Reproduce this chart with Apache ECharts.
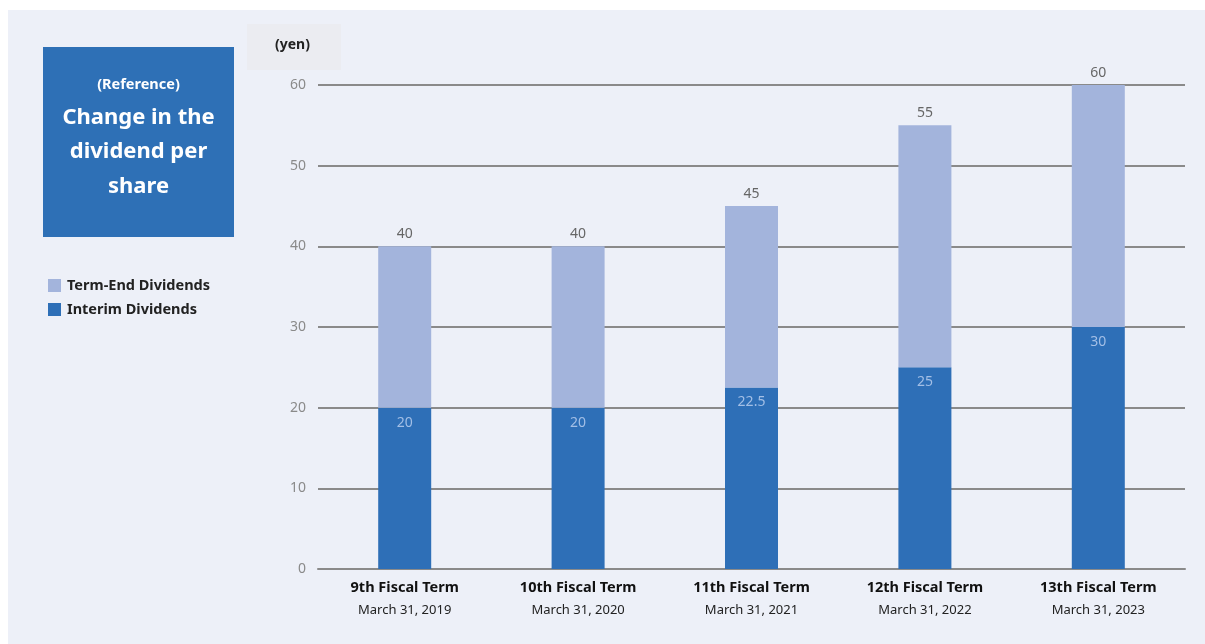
<!DOCTYPE html>
<html>
<head>
<meta charset="utf-8">
<script src="https://cdn.jsdelivr.net/npm/echarts@6/dist/echarts.min.js"></script>
<style>
  html, body { margin: 0; padding: 0; background: #ffffff; }
  #chart { width: 1205px; height: 644px; }
</style>
</head>
<body>
<div id="chart"></div>
<script>
var terms = ['9th Fiscal Term', '10th Fiscal Term', '11th Fiscal Term', '12th Fiscal Term', '13th Fiscal Term'];
var dates = ['March 31, 2019', 'March 31, 2020', 'March 31, 2021', 'March 31, 2022', 'March 31, 2023'];
var interim = [20, 20, 22.5, 25, 30];
var termEnd = [20, 20, 22.5, 30, 30];
var totals = [40, 40, 45, 55, 60];

var FONT = '"Noto Sans", "Open Sans", sans-serif';

var chart = echarts.init(document.getElementById('chart'));

var categories = terms.map(function (t, i) { return t + '\n' + dates[i]; });

chart.setOption({
    backgroundColor: '#ffffff',
    textStyle: { fontFamily: FONT },
    graphic: [
        // light panel
        { type: 'rect', left: 8, top: 10, z: -10,
          shape: { width: 1197, height: 634 }, style: { fill: '#edf0f8' } },
        // grey box behind unit
        { type: 'rect', left: 247, top: 24, z: -5,
          shape: { width: 94, height: 46 }, style: { fill: '#ebecf1' } },
        { type: 'text', left: 275, top: 38,
          style: { text: '(yen)', fill: '#222', font: 'bold 14px ' + FONT } },
        // title box
        { type: 'rect', left: 43, top: 47,
          shape: { width: 191, height: 190 }, style: { fill: '#2e70b6' } },
        { type: 'text', x: 138.5, y: 85,
          style: { text: '(Reference)', fill: '#fff', font: 'bold 14.5px ' + FONT,
                   align: 'center', verticalAlign: 'middle' } },
        { type: 'text', x: 138.5, y: 100,
          style: { text: 'Change in the\ndividend per\nshare', fill: '#fff',
                   font: 'bold 22px ' + FONT, lineHeight: 34.5,
                   align: 'center', verticalAlign: 'top' } }
    ],
    legend: {
        orient: 'vertical',
        left: 43,
        top: 273,
        itemWidth: 13,
        itemHeight: 13,
        itemGap: 9,
        icon: 'rect',
        data: ['Term-End Dividends', 'Interim Dividends'],
        textStyle: { fontSize: 14.5, fontWeight: 'bold', color: '#222', fontFamily: FONT, padding: [0, 0, 0, 1] }
    },
    grid: { left: 318, right: 20, top: 85, bottom: 75, containLabel: false },
    xAxis: {
        type: 'category',
        data: categories,
        axisLine: { lineStyle: { color: '#8a8a8a', width: 2 } },
        axisTick: { show: false },
        axisLabel: {
            interval: 0,
            margin: 8,
            formatter: function (v) {
                var p = v.split('\n');
                return '{a|' + p[0] + '}\n{b|' + p[1] + '}';
            },
            rich: {
                a: { fontSize: 14.5, fontWeight: 'bold', color: '#111', lineHeight: 22, fontFamily: FONT },
                b: { fontSize: 13, color: '#222', lineHeight: 22, fontFamily: FONT }
            }
        }
    },
    yAxis: {
        type: 'value',
        min: 0,
        max: 60,
        interval: 10,
        axisLine: { show: false },
        axisTick: { show: false },
        axisLabel: { color: '#8a8a8a', fontSize: 14, margin: 12, fontFamily: FONT },
        splitLine: { lineStyle: { color: '#8a8a8a', width: 2 } }
    },
    series: [
        {
            name: 'Interim Dividends',
            type: 'bar',
            stack: 'div',
            barWidth: 53,
            data: interim,
            itemStyle: { color: '#2e6fb7' },
            label: {
                show: true,
                position: 'insideTop',
                distance: 8,
                color: '#a3bfe6',
                fontSize: 14,
                fontFamily: FONT
            }
        },
        {
            name: 'Term-End Dividends',
            type: 'bar',
            stack: 'div',
            barWidth: 53,
            data: termEnd,
            itemStyle: { color: '#a3b4dc' },
            label: {
                show: true,
                position: 'top',
                distance: 5,
                color: '#666',
                fontSize: 14,
                fontFamily: FONT,
                formatter: function (p) { return totals[p.dataIndex]; }
            }
        }
    ]
});
</script>
</body>
</html>
